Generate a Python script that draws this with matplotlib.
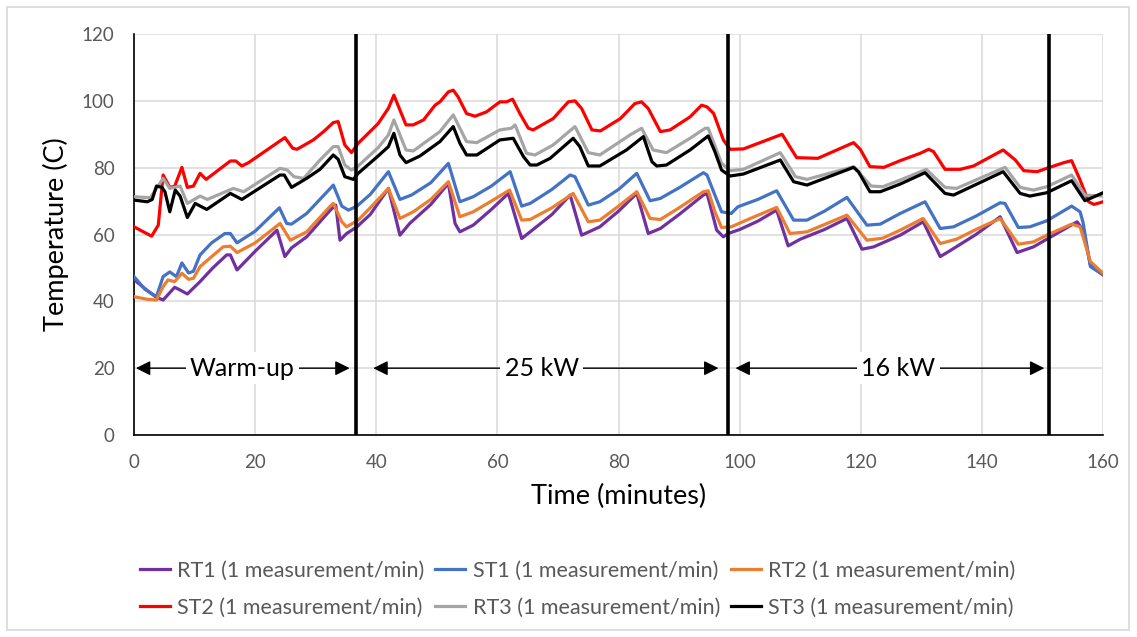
"""
Temperature of the RT/ST sensors over a test run (warm-up, 25 kW, 16 kW).

"""

import matplotlib
matplotlib.use('Agg')
import matplotlib.pyplot as plt
from matplotlib.patches import Rectangle

# --- data (minutes, degC) --------------------------------------------------------

rt1_t = [0, 2, 3.7, 4.8, 6.7, 7.6, 8.8, 10.9, 13, 15.3, 15.9, 17, 20, 23.6, 24.9, 26, 28.5,
         32.4, 33.3, 34, 35.1, 36.8, 39, 42, 43.9, 45.5, 49, 51.9, 53, 53.8, 56, 59, 61.8,
         64, 65.4, 69, 72, 73.9, 76.9, 80, 83, 84.9, 86.9, 90, 94, 94.6, 96.2, 97.3, 98.1,
         100, 103, 106.1, 108, 110, 114, 117.7, 120.2, 122.1, 126.5, 130.3, 133.1, 134.5,
         139, 143, 145.8, 148.5, 150.7, 155.7, 156.7, 157.9, 160]
rt1_v = [46.5, 43.5, 41.2, 40.4, 44.2, 43.4, 42.2, 45.9, 50, 53.9, 53.9, 49.4, 55, 61.3, 53.4,
         56, 59.3, 67.3, 68.8, 58.3, 60.3, 62.3, 66, 73.8, 59.8, 63.3, 69, 75.3, 63.3, 60.8,
         62.8, 67.5, 72.3, 58.8, 60.8, 66, 71.8, 59.8, 62.3, 67, 72.3, 60.3, 61.8, 66, 71.8,
         72.3, 61.3, 59.3, 60.3, 61.5, 64, 67.3, 56.6, 58.6, 61.5, 64.8, 55.6, 56.3, 59.8,
         63.8, 53.4, 54.9, 60, 65.3, 54.6, 56.3, 58.6, 63.8, 61.3, 50.9, 47.9]

st1_t = [0, 1.8, 3.7, 4.8, 5.9, 7, 7.9, 9, 9.8, 10.9, 12.8, 15, 15.9, 17, 20, 24, 25.2, 26,
         28.5, 32.4, 32.9, 34.3, 35.4, 36.8, 39, 42, 43.9, 45.8, 49, 51.9, 53.8, 56, 59, 62.1,
         64, 65.4, 69, 72, 72.8, 75, 76.9, 80, 83, 85.2, 86.9, 90, 94, 94.6, 95.9, 97, 98.6,
         99.7, 103, 106.1, 108.9, 111.1, 114, 117.7, 121, 123.2, 126.5, 130.6, 133.1, 135.3,
         139, 143, 143.8, 146, 147.9, 150.7, 154.8, 156.2, 156.7, 157.9, 160]
st1_v = [47.4, 43.6, 41.4, 47.4, 48.8, 47.4, 51.5, 48.5, 49, 53.9, 57.5, 60.3, 60.3, 57.5, 61,
         68, 63.3, 63.1, 66.3, 73.8, 74.8, 68.5, 67.3, 68.5, 72, 78.8, 70.5, 71.8, 75.5, 81.3,
         69.8, 71.3, 74.5, 78.8, 68.5, 69.3, 73.5, 77.8, 77.3, 68.8, 69.8, 73.5, 78.3, 70.1,
         70.8, 74, 78.5, 77.8, 71.8, 66.8, 66.3, 68.3, 70.5, 73.1, 64.3, 64.3, 67, 71.1, 62.8,
         63.1, 66.3, 69.8, 61.8, 62.3, 65.5, 69.5, 69.3, 62.1, 62.3, 64.1, 68.5, 66.8, 63.5,
         50.4, 47.9]

rt2_t = [0, 2.2, 3.7, 4.8, 5.6, 6.7, 7.9, 9, 9.8, 10.9, 14.7, 15.9, 17, 20, 24.1, 25.8, 28.5,
         32.4, 32.9, 34.3, 35.1, 37, 39, 42, 43.9, 46.1, 49, 51.9, 53.8, 56, 59, 62, 64, 65.4,
         69, 72.5, 75, 76.9, 80, 83, 85.2, 86.9, 90, 94, 94.8, 95.9, 97, 98.6, 102, 106.1,
         108.3, 111.1, 114, 117.7, 121, 123.6, 126.5, 130.3, 133.1, 135.8, 139, 143, 146,
         148.5, 150.7, 154.8, 156.2, 157.9, 160]
rt2_v = [41.4, 40.6, 40.4, 44.4, 46.4, 45.9, 48.4, 46.6, 46.9, 50.4, 56.3, 56.5, 54.6, 57.5,
         63.3, 58.3, 60.8, 68.5, 69.3, 63.8, 62.3, 64.3, 68, 73.8, 64.8, 66.8, 70.5, 75.8,
         65.3, 66.8, 70, 73.3, 64.3, 64.5, 68, 72.3, 63.8, 64.3, 68.5, 72.8, 64.8, 64.5, 68,
         72.8, 73.1, 66.8, 62.1, 62.3, 65, 68.1, 60.3, 60.8, 63, 65.8, 58.3, 58.9, 61.3, 64.8,
         57.3, 58.6, 61.5, 64.8, 57.1, 57.8, 59.8, 63.1, 62.3, 51.9, 48.4]

st2_t = [0, 2.9, 4, 4.8, 5.9, 6.7, 7.9, 8.8, 9.8, 10.9, 11.9, 15.9, 16.8, 17.8, 18.9, 24.9,
         26.2, 26.9, 29.6, 31.3, 32.9, 33.7, 34.8, 35.9, 37, 40.3, 42, 42.9, 44.9, 46.1, 47.8,
         49.7, 50.5, 51.9, 52.7, 53.5, 54.9, 56.3, 58.2, 60.4, 61.5, 62.5, 63.7, 65.1, 65.9,
         69.2, 71.7, 72.8, 73.9, 75.6, 77, 80.3, 82.7, 83.8, 84.9, 86.9, 88.5, 91.8, 93.7,
         94.6, 95.7, 97.3, 98.4, 100.6, 107, 109.4, 112.9, 118.8, 119.9, 121.5, 123.8, 126.5,
         129.8, 131.2, 132, 133.9, 136.4, 138.6, 143.5, 145.5, 146.9, 149.1, 150.7, 153.5,
         154.8, 156.2, 157.6, 158.5, 160]
st2_v = [62.3, 59.5, 62.8, 77.8, 74.1, 74.4, 80.1, 74.1, 74.5, 78.3, 76.5, 82, 82, 80.5, 81.5,
         89, 85.8, 85.5, 88.3, 90.8, 93.5, 93.8, 86.8, 84.5, 87.3, 93.2, 97.8, 101.7, 92.8,
         92.8, 94.3, 98.7, 99.7, 102.7, 103.2, 101.2, 96.2, 95.4, 96.7, 99.7, 99.7, 100.5,
         96.2, 91.8, 91.3, 94.7, 99.7, 100, 97.7, 91.3, 91, 94.7, 99.2, 99.7, 97.7, 90.8, 91.3,
         95.2, 98.7, 98.2, 96.2, 88.3, 85.5, 85.6, 90, 83, 82.8, 87.5, 85.5, 80.3, 80.1, 82.1,
         84.3, 85.5, 84.8, 79.5, 79.5, 80.5, 85.3, 82.3, 79.1, 78.8, 79.8, 81.5, 82.1, 76.3,
         69.8, 69, 69.8]

rt3_t = [0, 2.7, 4.8, 5.9, 7.6, 8.8, 10.9, 12.1, 16.4, 18.1, 24.1, 25.3, 26.4, 28, 30.7, 32.9,
         33.7, 34.8, 35.9, 37, 40.3, 42, 42.9, 44.9, 46.1, 50.5, 52.7, 54.9, 56.6, 60.4, 62.3,
         62.9, 64.8, 66.2, 69.2, 72.8, 75, 76.9, 81.9, 83.8, 85.7, 87.9, 91.8, 94.3, 94.8, 97,
         98.4, 100.6, 106.7, 109.2, 111.1, 118.8, 121.7, 123.6, 126.5, 130.8, 133.9, 135.8,
         143.8, 146.3, 148.5, 150.7, 154.8, 157, 160]
rt3_v = [71.3, 71, 76.8, 73.8, 74.5, 69.3, 71.5, 70.5, 73.8, 72.8, 79.8, 79.3, 77.3, 76.8, 82.3,
         86.3, 86.3, 80.8, 79.3, 80.5, 86, 89.8, 94.3, 85.3, 85, 90.8, 95.8, 87.8, 87.5, 91.3,
         91.8, 92.8, 84.3, 83.8, 86.8, 92.3, 84.5, 83.8, 89.8, 91.8, 85.3, 84.5, 88.8, 91.8,
         91.8, 81.3, 79.1, 79.5, 84.5, 77.3, 76.5, 80.3, 74.5, 74.3, 76.3, 79.5, 74.1, 73.8,
         80.1, 74.1, 73.3, 74.3, 77.8, 71.8, 71.5]

st3_t = [0, 2.2, 3, 3.7, 4.6, 5.1, 5.9, 6.8, 7.6, 8.8, 10.1, 12, 15.9, 17.8, 24.1, 24.8, 26,
         28.5, 30.7, 32.9, 33.7, 34.8, 36.2, 37, 40.3, 42, 42.9, 43.9, 44.9, 47.2, 50.5, 52.7,
         53.8, 54.9, 56.6, 60.4, 62.6, 64.3, 65.4, 66.5, 68.7, 72.5, 73.6, 75, 76.9, 81.3,
         84.1, 85.5, 86.3, 87.9, 91.8, 94.8, 95.9, 97, 98.4, 100.6, 106.7, 108.9, 111.1, 118.8,
         119.6, 121.5, 123.2, 126.5, 130.6, 133.9, 135.3, 143.5, 146.3, 147.9, 150.7, 154.8,
         157, 160]
st3_v = [70.3, 69.8, 70.5, 74.5, 74.1, 72.8, 66.8, 73.3, 71.5, 65.1, 69.3, 67.5, 72.3, 70.5,
         77.8, 77.8, 74.1, 76.8, 79.5, 83.8, 82.5, 77.3, 76.5, 78.3, 83.5, 86.3, 90.3, 83.8,
         81.5, 83.5, 87.8, 92.3, 87.3, 83.8, 83.8, 88.3, 88.8, 83.3, 80.8, 80.8, 82.8, 88.8,
         86.3, 80.5, 80.5, 85.3, 89.3, 81.8, 80.5, 80.8, 85.3, 89.5, 84.8, 79.3, 77.5, 78.1,
         82.3, 75.8, 74.8, 80.1, 78.8, 72.8, 72.8, 75.1, 78.5, 72.3, 71.8, 78.8, 72.3, 71.5,
         72.5, 76.1, 70.1, 72.5]

series_names = ['RT1', 'ST1', 'RT2', 'ST2', 'RT3', 'ST3']
series_colors = ['#7030A0', '#4472C4', '#ED7D31', '#FF0000', '#A5A5A5', '#000000']

# phase boundaries (minutes) and the labelled spans drawn as double arrows
phase_bounds = [36.7, 98, 151]
phase_labels = ['Warm-up', '25 kW', '16 kW']
phase_spans = [(0.3, 35.6), (39.5, 96.5), (99.3, 150.3)]
phase_label_x = [17.9, 67.3, 126.2]

x_ticks = list(range(0, 161, 20))
y_ticks = list(range(0, 121, 20))

FONT = ['Lato', 'DejaVu Sans']
TICK_GREY = '#595959'


def plot_temperatures(dst='out.png'):
    """
        Draw the six temperature traces with the phase markers and save to `dst`.
    """
    plt.rcParams['font.family'] = FONT

    fig = plt.figure(figsize=(11.37, 6.37), dpi=100)
    ax = fig.add_axes([0.1179, 0.3171, 0.8523, 0.6295])

    # light frame around the chart area, like the Excel chart border
    fig.patches.append(Rectangle((7 / 1137, 7 / 637), 1122 / 1137, 623 / 637,
                                 transform=fig.transFigure, fill=False,
                                 edgecolor='#D9D9D9', lw=1.2))

    data = [(rt1_t, rt1_v), (st1_t, st1_v), (rt2_t, rt2_v),
            (st2_t, st2_v), (rt3_t, rt3_v), (st3_t, st3_v)]

    handles = []
    for (t, v), name, color in zip(data, series_names, series_colors):
        line, = ax.plot(t, v, color=color, lw=2.3, solid_joinstyle='round',
                        label=f'{name} (1 measurement/min)', zorder=3)
        handles.append(line)

    for xb in phase_bounds:
        ax.axvline(xb, color='black', lw=2.6, zorder=5)

    for (x0, x1), label, xl in zip(phase_spans, phase_labels, phase_label_x):
        ax.annotate('', xy=(x0, 20), xytext=(x1, 20),
                    arrowprops=dict(arrowstyle='<|-|>', color='black', lw=1.0,
                                    mutation_scale=22, shrinkA=0, shrinkB=0),
                    zorder=6)
        ax.text(xl, 20, label, ha='center', va='center', fontsize=18, color='black',
                bbox=dict(facecolor='white', edgecolor='none', pad=3), zorder=7)

    ax.set_xlim(0, 160)
    ax.set_ylim(0, 120)
    ax.set_xticks(x_ticks)
    ax.set_yticks(y_ticks)
    ax.grid(color='#D9D9D9', lw=1.1)
    ax.set_axisbelow(True)
    ax.tick_params(length=0, pad=14, labelsize=13.5, labelcolor=TICK_GREY)

    for side in ('top', 'right'):
        ax.spines[side].set_visible(False)
    for side in ('left', 'bottom'):
        ax.spines[side].set_color('black')
        ax.spines[side].set_linewidth(1.2)

    ax.set_xlabel('Time (minutes)', fontsize=19.5, color='black', labelpad=9)
    ax.set_ylabel('Temperature (C)', fontsize=19.5, color='black', labelpad=9)

    # Excel fills the legend row by row, matplotlib column by column
    order = [0, 3, 1, 4, 2, 5]
    fig.legend([handles[i] for i in order], [handles[i].get_label() for i in order],
               loc='center', bbox_to_anchor=(0.508, 0.075), ncol=3, frameon=False,
               fontsize=15.5, labelcolor=TICK_GREY, handlelength=1.4, handletextpad=0.33,
               columnspacing=0.5, labelspacing=0.8)

    fig.savefig(dst, dpi=100)
    plt.close(fig)


if __name__ == '__main__':
    plot_temperatures()
